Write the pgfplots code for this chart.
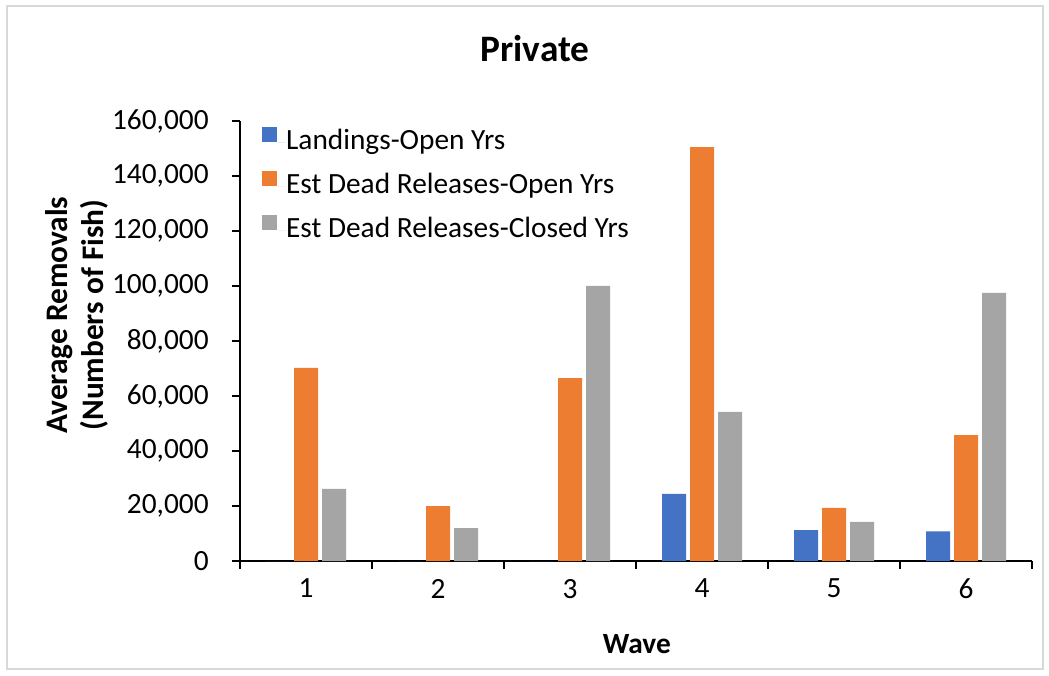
\documentclass[border=0pt]{standalone}
\usepackage{fontspec}
\setmainfont{Carlito}
\usepackage{pgfplots}
\pgfplotsset{compat=1.18}
\definecolor{cblue}{HTML}{4472C4}
\definecolor{corange}{HTML}{ED7D31}
\definecolor{cgray}{HTML}{A5A5A5}
\begin{document}
\begin{tikzpicture}
\path[use as bounding box] (0,0) rectangle (786.75pt,506.25pt);
\draw[color=black!15, line width=1.5pt] (5.25pt,4.5pt) rectangle (782pt,501.75pt);
\begin{axis}[
  at={(180pt,85.5pt)}, anchor=south west,
  scale only axis, width=594pt, height=330pt,
  ybar=3pt, bar width=18pt,
  xmin=0.5, xmax=6.5, ymin=0, ymax=160000,
  xtick={1,2,3,4,5,6},
  minor xtick={0.5,1.5,...,6.5},
  every major x tick/.append style={draw=none},
  ytick={0,20000,...,160000},
  tick align=outside, major tick length=6pt, minor tick length=6pt,
  tick style={black, line width=1pt},
  axis x line*=bottom, axis y line*=left,
  axis line style={black, line width=1pt},
  scaled y ticks=false,
  /pgf/number format/.cd, fixed, 1000 sep={,}, assume math mode=true, /pgfplots/.cd,
  tick label style={font=\fontsize{22}{26}\selectfont},
  yticklabel style={xshift=-14pt},
  xticklabel style={yshift=-4pt},
  title={Private},
  title style={font=\fontsize{28}{32}\selectfont\bfseries, at={(rel axis cs:0.3725,1.147)}, anchor=center},
  xlabel={Wave},
  xlabel style={font=\fontsize{22}{26}\selectfont\bfseries, at={(rel axis cs:0.501,-0.188)}, anchor=center},
  ylabel={Average Removals\\(Numbers of Fish)},
  ylabel style={font=\fontsize{23.5}{27}\selectfont\bfseries, align=center, at={(rel axis cs:-0.2064,0.559)}, anchor=center, rotate=0},
  legend cell align=left,
  legend style={draw=none, fill=none, inner sep=0pt, outer sep=0pt,
    at={(rel axis cs:0.028,0.987)}, anchor=north west,
    font=\fontsize{22}{26}\selectfont, row sep=11pt,
    nodes={inner sep=0pt, text height=15pt, text depth=5pt}},
  legend image code/.code={\fill[#1] (0pt,0.75pt) rectangle (11.25pt,12pt); \path (11.25pt,0) -- (18pt,0);},
]
\addplot[fill=cblue, draw=none] coordinates {(1,0) (2,0) (3,0) (4,24400) (5,11200) (6,10800)};
\addplot[fill=corange, draw=none] coordinates {(1,70200) (2,20000) (3,66500) (4,150500) (5,19300) (6,45800)};
\addplot[fill=cgray, draw=none] coordinates {(1,26200) (2,12000) (3,100000) (4,54200) (5,14200) (6,97500)};
\legend{Landings-Open Yrs, Est Dead Releases-Open Yrs, Est Dead Releases-Closed Yrs}
\end{axis}
\end{tikzpicture}
\end{document}
